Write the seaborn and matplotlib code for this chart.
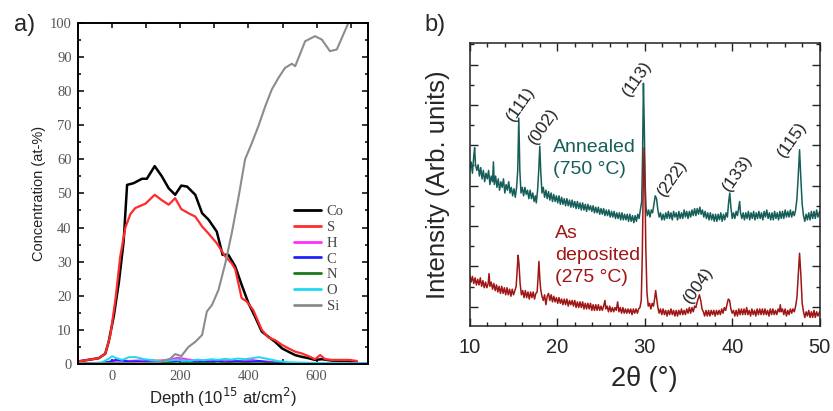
import numpy as np
import pandas as pd
import matplotlib
matplotlib.use('Agg')
import matplotlib.pyplot as plt
from matplotlib.ticker import MultipleLocator
import seaborn as sns

# ---- panel a) depth profile (at-%) ----
co_depth = [-102, -39, -20, -10, 5, 20, 34, 44, 63, 88, 102, 125, 146, 166, 185, 203, 220,
            244, 264, 283, 307, 324, 341, 361, 380, 400, 419, 439, 458, 478, 498, 517, 537,
            556, 576, 595, 615, 644, 693, 717]
co_conc = [0.7, 1.7, 3.0, 6.5, 14, 24, 36, 52.5, 53, 54.3, 54.3, 58, 55, 51.5, 49.6, 52.3, 52,
           49.6, 44.2, 42.3, 38.8, 32, 32, 28.6, 23.2, 17.8, 13.9, 9.5, 8, 6.5, 4.6, 3.6, 2.6,
           2.1, 1.7, 1.2, 1.4, 1.0, 0.9, 0.7]

s_depth = [-102, -39, -20, -5, 10, 24, 39, 54, 68, 98, 125, 146, 166, 185, 203, 224, 244, 264,
           283, 307, 332, 351, 361, 380, 395, 414, 439, 458, 478, 498, 517, 537, 556, 576, 595,
           610, 625, 644, 693, 717]
s_conc = [0.7, 1.7, 3.0, 8.5, 19, 31.5, 40, 44, 45.7, 47, 49.6, 48, 46.7, 48.6, 45.4, 44.2,
          43.2, 40.3, 38.2, 35.4, 31.5, 29.5, 27.8, 19.3, 18.3, 15.8, 10, 7.8, 7, 5.6, 4.6, 3.6,
          3.1, 2.3, 1.4, 2.6, 1.4, 1.2, 1.2, 0.9]

si_depth = [-100, 0, 100, 140, 170, 185, 203, 224, 244, 264, 278, 293, 312, 332, 351, 371, 390,
            410, 429, 449, 468, 488, 507, 527, 537, 566, 595, 615, 639, 659, 693, 720, 750]
si_conc = [0.2, 0.2, 0.3, 0.6, 1.5, 2.9, 2.3, 5.0, 6.5, 8.5, 15.4, 17.3, 21.7, 29.5, 38.4, 49,
           60, 64.8, 69.7, 75.5, 80.4, 83.9, 86.8, 88.0, 87.3, 94.6, 96.1, 95.1, 91.7, 92.2,
           100, 103, 105]

minor_depth = [-100, -60, -30, -10, 0, 10, 30, 50, 70, 90, 110, 130, 150, 170, 190, 210, 230,
               250, 270, 290, 310, 330, 350, 370, 390, 410, 430, 450, 470, 490, 520, 560, 600,
               650, 700, 750]
h_conc = [0.1, 0.2, 0.3, 0.6, 0.8, 0.9, 1.0, 0.9, 1.0, 1.1, 1.2, 1.0, 1.1, 1.3, 1.8, 1.6, 1.2,
          1.0, 1.1, 1.2, 0.9, 1.0, 1.1, 0.8, 1.0, 1.2, 0.9, 0.8, 0.6, 0.4, 0.3, 0.2, 0.2, 0.1,
          0.1, 0.1]
c_conc = [0.1, 0.2, 0.3, 0.6, 0.9, 1.2, 1.0, 0.7, 0.8, 0.6, 0.9, 0.7, 0.8, 0.6, 0.9, 1.0, 0.7,
          0.5, 0.8, 0.6, 0.9, 0.5, 0.7, 0.8, 0.6, 0.7, 0.9, 0.6, 0.4, 0.3, 0.2, 0.2, 0.1, 0.1,
          0.1, 0.1]
n_conc = [0.05, 0.1, 0.15, 0.2, 0.3, 0.3, 0.25, 0.3, 0.2, 0.3, 0.25, 0.2, 0.3, 0.25, 0.2, 0.3,
          0.25, 0.2, 0.3, 0.25, 0.2, 0.3, 0.25, 0.2, 0.3, 0.2, 0.25, 0.2, 0.2, 0.15, 0.1, 0.1,
          0.1, 0.05, 0.05, 0.05]
o_conc = [0.1, 0.2, 0.5, 1.5, 2.3, 1.8, 1.2, 2.0, 2.0, 1.5, 1.2, 1.0, 0.8, 1.0, 1.2, 1.0, 0.9,
          1.3, 1.1, 1.4, 1.2, 1.5, 1.3, 1.6, 1.4, 1.7, 2.0, 1.6, 1.2, 0.8, 0.5, 0.4, 0.3, 0.3,
          0.2, 0.2]

# ---- panel b) XRD patterns (arb. units), (2theta, intensity) pairs ----
annealed = [
    (10.0, 55), (10.15, 58), (10.3, 54), (10.45, 60), (10.55, 63), (10.65, 57), (10.8, 55),
    (10.95, 57), (11.1, 53), (11.25, 56), (11.4, 52), (11.55, 55), (11.7, 51), (11.85, 54),
    (12.0, 52), (12.15, 55), (12.3, 50), (12.45, 53), (12.6, 51), (12.7, 58), (12.8, 50),
    (12.95, 53), (13.1, 49), (13.25, 52), (13.4, 48), (13.55, 51), (13.7, 49), (13.85, 52),
    (14.0, 47), (14.15, 50), (14.3, 48), (14.45, 51), (14.6, 47), (14.75, 49), (14.9, 46),
    (15.05, 48.5), (15.2, 45.5), (15.35, 49), (15.48, 55), (15.6, 73.5), (15.72, 55),
    (15.85, 47), (16.0, 49), (16.15, 46), (16.3, 49), (16.45, 46.5), (16.6, 48), (16.75, 45),
    (16.9, 48), (17.05, 45), (17.2, 47), (17.35, 44), (17.5, 46), (17.6, 43.5), (17.75, 48),
    (17.88, 55), (18.0, 63.5), (18.12, 54), (18.25, 47), (18.4, 49), (18.55, 45.5), (18.7, 48),
    (18.85, 45), (19.0, 47.5), (19.15, 44.5), (19.3, 47), (19.45, 44), (19.6, 46.5),
    (19.75, 44), (19.9, 46), (20.05, 43.5), (20.2, 46), (20.35, 43), (20.5, 45.5), (20.65, 43),
    (20.8, 45), (20.95, 42.5), (21.1, 45), (21.25, 42.5), (21.4, 44.5), (21.55, 42),
    (21.7, 44.5), (21.85, 42), (22.0, 44), (22.15, 41.5), (22.3, 44), (22.45, 41.5),
    (22.6, 43.5), (22.75, 41), (22.9, 43.5), (23.05, 41), (23.2, 43), (23.35, 40.5), (23.5, 43),
    (23.65, 41), (23.8, 42.5), (23.95, 40.5), (24.1, 42.5), (24.25, 40), (24.4, 42), (24.55, 40),
    (24.7, 42), (24.85, 39.5), (25.0, 41.5), (25.15, 39.5), (25.3, 41.5), (25.45, 39), (25.6, 41),
    (25.75, 39), (25.9, 41), (26.05, 38.5), (26.2, 40.5), (26.35, 38.5), (26.5, 40.5), (26.65, 38),
    (26.8, 40), (26.95, 38), (27.1, 40), (27.25, 37.5), (27.4, 40), (27.55, 37.5), (27.7, 39.5),
    (27.85, 37.5), (28.0, 39.5), (28.15, 37), (28.3, 39.5), (28.45, 37), (28.6, 39), (28.75, 36.5),
    (28.9, 39), (29.05, 37), (29.2, 39.5), (29.35, 38), (29.5, 41), (29.65, 44), (29.75, 60),
    (29.85, 85.8), (29.95, 70), (30.05, 50), (30.15, 42), (30.3, 39), (30.45, 41), (30.6, 38.5),
    (30.75, 41), (30.9, 40), (31.05, 43), (31.2, 46), (31.35, 45), (31.5, 41), (31.65, 38.5),
    (31.8, 40), (31.95, 37.5), (32.1, 39.5), (32.25, 37.5), (32.4, 40), (32.55, 38), (32.7, 40.5),
    (32.85, 38), (33.0, 40), (33.15, 37.5), (33.3, 40.5), (33.45, 38.5), (33.6, 40), (33.75, 37.5),
    (33.9, 40.5), (34.05, 38), (34.2, 40), (34.35, 38), (34.5, 41), (34.65, 38.5), (34.8, 40.5),
    (34.95, 38), (35.1, 40.5), (35.25, 38.5), (35.4, 41), (35.55, 39), (35.7, 41.5), (35.85, 39),
    (36.0, 41.5), (36.15, 39.5), (36.3, 42), (36.45, 39.5), (36.6, 41), (36.75, 38.5),
    (36.9, 40.5), (37.05, 38), (37.2, 40), (37.35, 37.5), (37.5, 40), (37.65, 37.5), (37.8, 39.5),
    (37.95, 37), (38.1, 39.5), (38.25, 37), (38.4, 39.5), (38.55, 37.5), (38.7, 40), (38.85, 37),
    (39.0, 39.5), (39.15, 37.5), (39.3, 40), (39.45, 38.5), (39.6, 44), (39.72, 47), (39.85, 42),
    (40.0, 38), (40.15, 40), (40.3, 38), (40.45, 40.5), (40.6, 39), (40.75, 42), (40.85, 44),
    (40.95, 40), (41.1, 38), (41.25, 40), (41.4, 37.5), (41.55, 40), (41.7, 38), (41.85, 40.5),
    (42.0, 37.5), (42.15, 40), (42.3, 38), (42.45, 40.5), (42.6, 37.5), (42.75, 40), (42.9, 38),
    (43.05, 40.5), (43.2, 38), (43.35, 40), (43.5, 37.5), (43.65, 40.5), (43.8, 38.5), (43.95, 41),
    (44.1, 38), (44.25, 40), (44.4, 37.5), (44.55, 40), (44.7, 37.5), (44.85, 40.5), (45.0, 38),
    (45.15, 40), (45.3, 37.5), (45.45, 40.5), (45.6, 38), (45.75, 40.5), (45.9, 38), (46.05, 41),
    (46.2, 38.5), (46.35, 40.5), (46.5, 38.5), (46.65, 41), (46.8, 38.5), (46.95, 40.5),
    (47.1, 39), (47.25, 41), (47.4, 45), (47.55, 53), (47.7, 62.3), (47.85, 52), (48.0, 43),
    (48.15, 39), (48.3, 37), (48.45, 39.5), (48.6, 37.5), (48.75, 40), (48.9, 37.5),
    (49.05, 40.5), (49.2, 38), (49.35, 40.5), (49.5, 38), (49.65, 41), (49.8, 38.5), (50.0, 40.5)]

deposited = [
    (10.0, 18), (10.15, 15.5), (10.3, 17.5), (10.45, 15), (10.6, 17), (10.75, 14.5), (10.9, 16.5),
    (11.05, 14.5), (11.2, 17), (11.35, 14), (11.5, 16), (11.65, 13.5), (11.8, 15.5), (11.95, 13.5),
    (12.1, 15), (12.2, 18.5), (12.3, 14), (12.45, 15.5), (12.6, 13), (12.75, 15), (12.9, 12.5),
    (13.05, 14.5), (13.2, 12), (13.35, 14), (13.5, 11.5), (13.65, 14), (13.8, 11.5), (13.95, 13.5),
    (14.1, 11), (14.25, 13.5), (14.4, 11), (14.55, 13), (14.7, 10.5), (14.85, 13), (15.0, 11),
    (15.15, 12.5), (15.3, 14), (15.42, 20), (15.52, 25), (15.62, 22), (15.75, 15), (15.9, 11),
    (16.05, 12.5), (16.2, 10), (16.35, 12.5), (16.5, 10), (16.65, 12), (16.8, 9.5), (16.95, 12),
    (17.1, 10), (17.25, 12), (17.4, 9.5), (17.55, 11.5), (17.7, 12), (17.8, 17), (17.9, 22.8),
    (18.0, 17), (18.1, 13), (18.25, 10.5), (18.4, 9), (18.55, 11), (18.7, 7.5), (18.85, 10.5),
    (19.0, 11.5), (19.15, 9), (19.3, 11), (19.45, 8.5), (19.6, 10.5), (19.75, 8.5), (19.9, 10),
    (20.05, 8), (20.2, 10), (20.35, 8), (20.5, 9.5), (20.65, 7.5), (20.8, 9.5), (20.95, 7.5),
    (21.1, 9.5), (21.25, 7), (21.4, 9), (21.55, 7.5), (21.7, 9), (21.85, 7), (22.0, 9),
    (22.15, 6.5), (22.3, 8.5), (22.45, 6.5), (22.6, 8.5), (22.75, 6.5), (22.9, 8.5), (23.05, 6),
    (23.2, 8), (23.35, 6), (23.5, 8), (23.65, 6), (23.8, 8), (23.95, 5.5), (24.1, 7.5),
    (24.25, 5.5), (24.4, 7.5), (24.55, 5.5), (24.7, 7.5), (24.85, 5.5), (25.0, 7), (25.15, 5.5),
    (25.3, 7), (25.45, 9), (25.55, 6), (25.7, 7), (25.85, 5), (26.0, 7), (26.15, 5), (26.3, 6.5),
    (26.45, 5), (26.6, 6.5), (26.75, 5.5), (26.9, 8.5), (27.05, 5), (27.2, 6.5), (27.35, 4.5),
    (27.5, 6.5), (27.65, 4.5), (27.8, 6), (27.95, 4.5), (28.1, 6), (28.25, 4.5), (28.4, 6),
    (28.55, 4), (28.7, 6), (28.85, 4.5), (29.0, 6), (29.15, 4.5), (29.3, 6), (29.45, 6.5),
    (29.6, 9), (29.72, 25), (29.82, 48), (29.92, 63), (30.02, 50), (30.12, 28), (30.25, 12),
    (30.4, 7), (30.55, 8), (30.7, 6), (30.85, 8), (31.0, 7), (31.15, 10), (31.25, 12.5),
    (31.35, 10), (31.5, 6.5), (31.65, 4.5), (31.8, 6), (31.95, 4), (32.1, 6), (32.25, 4),
    (32.4, 5.5), (32.55, 3.5), (32.7, 5.5), (32.85, 4), (33.0, 6), (33.15, 4), (33.3, 5.5),
    (33.45, 3.5), (33.6, 5.5), (33.75, 3.5), (33.9, 5.5), (34.05, 4), (34.2, 6), (34.35, 4),
    (34.5, 5.5), (34.65, 4), (34.8, 6), (34.95, 4.5), (35.1, 6.5), (35.25, 4.5), (35.4, 6.5),
    (35.55, 5), (35.7, 7), (35.85, 6.5), (36.0, 8.5), (36.15, 10), (36.25, 11), (36.4, 9),
    (36.55, 6), (36.7, 5), (36.85, 3.5), (37.0, 5.5), (37.15, 3.5), (37.3, 5.5), (37.45, 3.5),
    (37.6, 5.5), (37.75, 4), (37.9, 5.5), (38.05, 3.5), (38.2, 5.5), (38.35, 4), (38.5, 5.5),
    (38.65, 4), (38.8, 6), (38.95, 4.5), (39.1, 6.5), (39.25, 5.5), (39.4, 7.5), (39.55, 9.5),
    (39.7, 9), (39.85, 6), (40.0, 4.5), (40.15, 5.5), (40.3, 3.5), (40.45, 5.5), (40.6, 3.5),
    (40.75, 6), (40.9, 4), (41.05, 6), (41.2, 4), (41.35, 6), (41.5, 4), (41.65, 6.5), (41.8, 4),
    (41.95, 5.5), (42.1, 3.5), (42.25, 6), (42.4, 4), (42.55, 5.5), (42.7, 3.5), (42.85, 6),
    (43.0, 4), (43.15, 6), (43.3, 4), (43.45, 6), (43.6, 4), (43.75, 6), (43.9, 4), (44.05, 5.5),
    (44.2, 3.5), (44.35, 6), (44.5, 4), (44.65, 6), (44.8, 4), (44.95, 5.5), (45.1, 4), (45.25, 6),
    (45.4, 5), (45.5, 7.5), (45.6, 5), (45.75, 6), (45.9, 4), (46.05, 6), (46.2, 3.5),
    (46.35, 5.5), (46.5, 4), (46.65, 6), (46.8, 4.5), (46.95, 6), (47.1, 5), (47.25, 7),
    (47.4, 10), (47.55, 18), (47.7, 25.7), (47.85, 18), (48.0, 8), (48.15, 5), (48.3, 3),
    (48.45, 5), (48.6, 3.5), (48.75, 5.5), (48.9, 3), (49.05, 5), (49.2, 3), (49.35, 5.5),
    (49.5, 3), (49.65, 5), (49.8, 3.5), (50.0, 5)]

peak_labels = ['(111)', '(002)', '(113)', '(222)', '(133)', '(115)', '(004)']
peak_x = [15.8, 18.4, 29.1, 33.2, 40.55, 46.8, 36.1]
peak_y = [78.5, 70.5, 87.6, 52.2, 54.2, 66.0, 14.5]

sns.set_theme(style='ticks')
plt.rcParams['font.family'] = ['Liberation Sans', 'DejaVu Sans']
serif = ['Liberation Serif', 'DejaVu Serif']

fig = plt.figure(figsize=(8.33, 4.11), dpi=100)
ax1 = fig.add_axes([0.0936, 0.1144, 0.348, 0.830])
ax2 = fig.add_axes([0.564, 0.207, 0.420, 0.688])

# panel a
profile = [('Co', co_depth, co_conc, 'black', 1.8),
           ('S', s_depth, s_conc, '#ff2a2a', 1.6),
           ('H', minor_depth, h_conc, '#ff30ff', 1.4),
           ('C', minor_depth, c_conc, '#2020ff', 1.4),
           ('N', minor_depth, n_conc, '#1a7a1a', 1.4),
           ('O', minor_depth, o_conc, '#20d8f0', 1.4),
           ('Si', si_depth, si_conc, '#8c8c8c', 1.5)]
for name, xs, ys, col, lw in profile:
    sns.lineplot(x=xs, y=ys, ax=ax1, color=col, lw=lw, label=name,
                 estimator=None, sort=False)

ax1.set_xlim(-100, 750)
ax1.set_ylim(0, 100)
ax1.xaxis.set_major_locator(MultipleLocator(200))
ax1.xaxis.set_minor_locator(MultipleLocator(100))
ax1.yaxis.set_major_locator(MultipleLocator(10))
ax1.yaxis.set_minor_locator(MultipleLocator(5))
ax1.tick_params(which='both', direction='in', top=True, right=True, width=1.1,
                labelsize=10.5, labelcolor='#555555', color='black')
ax1.tick_params(axis='y', which='major', length=4.5, pad=4.5)
ax1.tick_params(axis='y', which='minor', length=2.5)
ax1.tick_params(axis='x', which='both', length=3.5, pad=4.5)
for lab in ax1.get_xticklabels() + ax1.get_yticklabels():
    lab.set_family(serif)
for sp in ax1.spines.values():
    sp.set_linewidth(1.4)
    sp.set_color('black')
ax1.set_xlabel('Depth (10$^{15}$ at/cm$^2$)', fontsize=12, color='#222222', labelpad=2)
ax1.set_ylabel('Concentration (at-%)', fontsize=10.5, color='#222222', labelpad=3)
leg = ax1.legend(loc='upper left', bbox_to_anchor=(0.70, 0.505), frameon=False,
                 handlelength=1.85, handletextpad=0.4, labelspacing=0.18,
                 prop={'family': serif, 'size': 10.5})
for t in leg.get_texts():
    t.set_color('#444444')
for h in leg.get_lines():
    h.set_linewidth(2.0)

# panel b
ann = pd.DataFrame(annealed, columns=['two_theta', 'intensity'])
dep = pd.DataFrame(deposited, columns=['two_theta', 'intensity'])
sns.lineplot(data=ann, x='two_theta', y='intensity', ax=ax2, color='#165e59', lw=1.1,
             estimator=None, sort=False)
sns.lineplot(data=dep, x='two_theta', y='intensity', ax=ax2, color='#a01515', lw=1.1,
             estimator=None, sort=False)
ax2.set_xlim(10, 50)
ax2.set_ylim(0, 100)
ax2.xaxis.set_major_locator(MultipleLocator(10))
ax2.xaxis.set_minor_locator(MultipleLocator(2))
ax2.yaxis.set_major_locator(MultipleLocator(14.27, offset=6.8))
ax2.yaxis.set_minor_locator(MultipleLocator(7.135, offset=6.8))
ax2.tick_params(which='both', direction='in', top=True, right=True, width=1.0,
                labelsize=14.5, color='#222222')
ax2.tick_params(which='major', length=5.5, pad=9)
ax2.tick_params(which='minor', length=3)
ax2.set_yticklabels([])
for sp in ax2.spines.values():
    sp.set_linewidth(1.1)
    sp.set_color('#222222')
ax2.set_xlabel('2θ (°)', fontsize=19.5, labelpad=6)
ax2.set_ylabel('Intensity (Arb. units)', fontsize=18.5, labelpad=5)

ax2.text(19.5, 59.2, 'Annealed\n(750 °C)', color='#165e59', fontsize=14,
         ha='left', va='center', linespacing=1.4)
ax2.text(19.7, 25.0, 'As\ndeposited\n(275 °C)', color='#a01515', fontsize=14,
         ha='left', va='center', linespacing=1.4)
for lab, px, py in zip(peak_labels, peak_x, peak_y):
    ax2.text(px, py, lab, fontsize=12.5, rotation=55, ha='center', va='center',
             color='#222222')

fig.text(25 / 833, 1 - 25 / 411, 'a)', fontsize=17, ha='center', va='center')
fig.text(435 / 833, 1 - 25 / 411, 'b)', fontsize=17, ha='center', va='center')

fig.savefig('out.png', dpi=100)
